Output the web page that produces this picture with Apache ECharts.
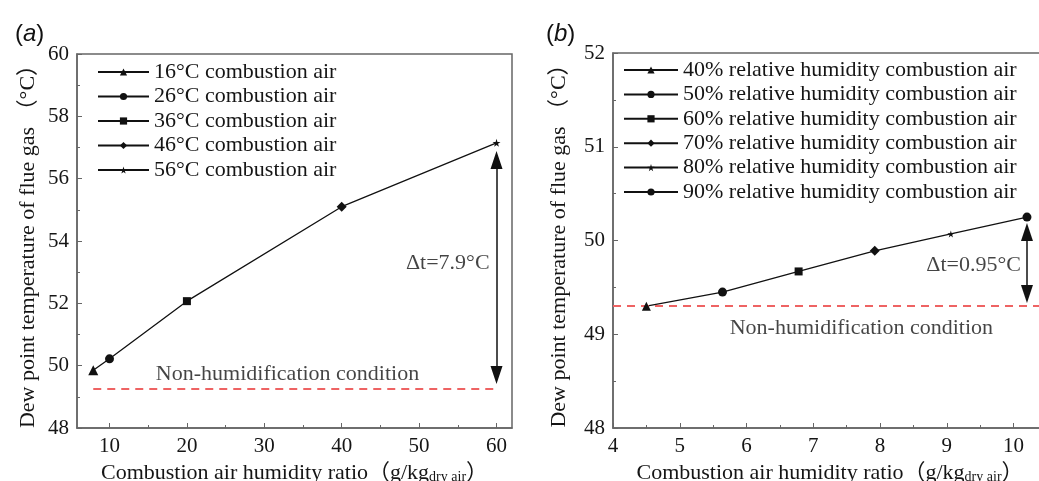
<!DOCTYPE html>
<html>
<head>
<meta charset="utf-8">
<script src="https://cdn.jsdelivr.net/npm/echarts@6/dist/echarts.min.js"></script>
<style>
  html, body { margin: 0; padding: 0; background: #fff; }
  #chart { width: 1039px; height: 481px; }
</style>
</head>
<body>
<div id="chart"></div>
<script>
// Panel (a): dew point vs humidity ratio for several combustion-air temperatures
const leftNames = ['16°C combustion air', '26°C combustion air', '36°C combustion air', '46°C combustion air', '56°C combustion air'];
const leftX = [7.9, 10, 20, 40, 60];
const leftY = [49.85, 50.22, 52.07, 55.1, 57.15];
const leftBaseline = 49.25;
const leftXTicks = [10, 20, 30, 40, 50, 60];
const leftXMinor = [15, 25, 35, 45, 55];

// Panel (b): dew point vs humidity ratio for several relative humidities
const rightNames = ['40% relative humidity combustion air', '50% relative humidity combustion air', '60% relative humidity combustion air', '70% relative humidity combustion air', '80% relative humidity combustion air', '90% relative humidity combustion air'];
const rightX = [4.5, 5.64, 6.78, 7.92, 9.06, 10.2];
const rightY = [49.3, 49.45, 49.67, 49.89, 50.07, 50.25];
const rightBaseline = 49.3;
const rightXTicks = [4, 5, 6, 7, 8, 9, 10];
const rightXMinor = [4.5, 5.5, 6.5, 7.5, 8.5, 9.5];

const STAR = 'path://M50,0 L61,35 L98,35 L68,57 L79,91 L50,70 L21,91 L32,57 L2,35 L39,35 Z';
const leftSymbols = [['triangle', 10], ['circle', 9], ['rect', 8], ['diamond', 10], [STAR, 8]];
const rightSymbols = [['triangle', 9], ['circle', 9], ['rect', 8], ['diamond', 10], [STAR, 7], ['circle', 9]];

const SERIF = '"Liberation Serif", "Times New Roman", "Noto Sans CJK SC", serif';
const SANS = '"Liberation Sans", Arial, sans-serif';
const INK = '#111';
const TEXT = '#151515';
const FRAME = '#666';
const RED = '#ee6363';

function xMain(grid, min, max, ticks) {
  return {
    type: 'value', gridIndex: grid, min: min, max: max,
    splitLine: { show: false },
    axisLine: { show: true, lineStyle: { color: FRAME, width: 1.5 } },
    axisTick: { show: true, inside: true, length: 5, customValues: ticks, lineStyle: { color: FRAME } },
    axisLabel: { customValues: ticks, margin: 8, color: TEXT, fontFamily: SERIF, fontSize: 21 },
    name: '{t|Combustion air humidity ratio（g/kg}{s|dry air}{t|）}',
    nameLocation: 'middle', nameGap: 30,
    nameTextStyle: {
      rich: {
        t: { fontFamily: SERIF, fontSize: 22, color: TEXT },
        s: { fontFamily: SERIF, fontSize: 14, color: TEXT, verticalAlign: 'bottom', padding: [9, 0, 0, 0] }
      }
    }
  };
}
function xMinor(grid, min, max, ticks) {
  return {
    type: 'value', gridIndex: grid, min: min, max: max, position: 'bottom',
    splitLine: { show: false }, axisLine: { show: false },
    axisLabel: { show: false },
    axisTick: { show: true, inside: true, length: 3, customValues: ticks, lineStyle: { color: FRAME } }
  };
}
function yAxis(grid, min, max, interval, gap) {
  return {
    type: 'value', gridIndex: grid, min: min, max: max, interval: interval,
    splitLine: { show: false },
    axisLine: { show: true, lineStyle: { color: FRAME, width: 1.5 } },
    axisTick: { show: true, inside: true, length: 5, lineStyle: { color: FRAME } },
    minorTick: { show: true, splitNumber: 2, length: 3, lineStyle: { color: FRAME } },
    axisLabel: { margin: 8, color: TEXT, fontFamily: SERIF, fontSize: 21 },
    name: 'Dew point temperature of flue gas （°C）',
    nameLocation: 'middle', nameRotate: 90, nameGap: gap,
    nameTextStyle: { fontFamily: SERIF, fontSize: 22, color: TEXT }
  };
}

function pointSeries(names, xs, ys, syms, xi, yi) {
  return names.map((n, i) => ({
    name: n, type: 'line', xAxisIndex: xi, yAxisIndex: yi,
    data: [[xs[i], ys[i]]],
    symbol: syms[i][0], symbolSize: syms[i][1],
    itemStyle: { color: INK }, lineStyle: { color: INK, width: 1 },
    z: 5, silent: true
  }));
}

function textSeries(xi, yi, items) {
  return {
    type: 'scatter', xAxisIndex: xi, yAxisIndex: yi, symbolSize: 0, silent: true,
    data: items.map(it => ({
      value: it.at,
      label: {
        show: true, position: it.pos, distance: 0, formatter: it.text,
        fontFamily: SERIF, fontSize: it.size, color: TEXT
      }
    })),
    z: 6
  };
}

function arrow(x, y0, y1) {
  return {
    silent: true, symbol: ['triangle', 'triangle'], symbolSize: [12, 18],
    lineStyle: { color: INK, width: 1.5, type: 'solid' }, label: { show: false },
    data: [[{ coord: [x, y0] }, { coord: [x, y1] }]]
  };
}

function panelTitle(letter, left) {
  return {
    text: '{p|(}{i|' + letter + '}{p|)}', left: left, top: 17,
    textStyle: {
      fontWeight: 'normal',
      rich: {
        p: { fontFamily: SANS, fontSize: 24, color: INK, fontWeight: 'normal' },
        i: { fontFamily: SANS, fontStyle: 'italic', fontSize: 24, color: INK, fontWeight: 'normal' }
      }
    }
  };
}

const legendText = { fontFamily: SERIF, fontSize: 22, lineHeight: 22, color: TEXT };

const option = {
  animation: false,
  backgroundColor: '#fff',
  title: [panelTitle('a', 10), panelTitle('b', 541)],
  grid: [
    { left: 77, top: 54, width: 435, height: 374, outerBoundsMode: 'none', containLabel: false,
      show: true, borderColor: FRAME, borderWidth: 1.5, backgroundColor: 'transparent' },
    { left: 613, top: 53, width: 434, height: 375, outerBoundsMode: 'none', containLabel: false,
      show: true, borderColor: FRAME, borderWidth: 1.5, backgroundColor: 'transparent' }
  ],
  legend: [
    { data: leftNames, orient: 'vertical', left: 97, top: 61, padding: 0, itemWidth: 51, itemHeight: 9, itemGap: 2.5,
      selectedMode: false, textStyle: legendText },
    { data: rightNames, orient: 'vertical', left: 623, top: 59, padding: 0, itemWidth: 54, itemHeight: 9, itemGap: 2.4,
      selectedMode: false, textStyle: legendText }
  ],
  xAxis: [
    xMain(0, 5.8, 62, leftXTicks),
    xMinor(0, 5.8, 62, leftXMinor),
    xMain(1, 4, 10.5, rightXTicks),
    xMinor(1, 4, 10.5, rightXMinor)
  ],
  yAxis: [
    yAxis(0, 48, 60, 2, 38),
    yAxis(1, 48, 52, 1, 43)
  ],
  series: [
    // connecting curve, panel (a)
    {
      type: 'line', xAxisIndex: 0, yAxisIndex: 0, symbol: 'none', silent: true,
      data: leftX.map((x, i) => [x, leftY[i]]),
      lineStyle: { color: INK, width: 1.3 },
      markLine: {
        silent: true, symbol: 'none', label: { show: false },
        lineStyle: { color: RED, width: 1.8, type: [8, 6] },
        data: [[{ coord: [leftX[0], leftBaseline] }, { coord: [leftX[leftX.length - 1], leftBaseline] }]]
      }
    },
    {
      type: 'line', xAxisIndex: 0, yAxisIndex: 0, symbol: 'none', silent: true, data: [],
      markLine: arrow(leftX[leftX.length - 1], 56.6, 49.7)
    },
    ...pointSeries(leftNames, leftX, leftY, leftSymbols, 0, 0),
    textSeries(0, 0, [
      { at: [59.1, 53.3], text: 'Δt=7.9°C', pos: 'left', size: 22 },
      { at: [33.0, 49.72], text: 'Non-humidification condition', pos: 'inside', size: 22 }
    ]),

    // connecting curve, panel (b)
    {
      type: 'line', xAxisIndex: 2, yAxisIndex: 1, symbol: 'none', silent: true,
      data: rightX.map((x, i) => [x, rightY[i]]),
      lineStyle: { color: INK, width: 1.3 },
      markLine: {
        silent: true, symbol: 'none', label: { show: false },
        lineStyle: { color: RED, width: 1.8, type: [8, 6] },
        data: [[{ coord: [4, rightBaseline] }, { coord: [10.5, rightBaseline] }]]
      }
    },
    {
      type: 'line', xAxisIndex: 2, yAxisIndex: 1, symbol: 'none', silent: true, data: [],
      markLine: arrow(rightX[rightX.length - 1], 50.09, 49.43)
    },
    ...pointSeries(rightNames, rightX, rightY, rightSymbols, 2, 1),
    textSeries(2, 1, [
      { at: [10.11, 49.74], text: 'Δt=0.95°C', pos: 'left', size: 22 },
      { at: [7.72, 49.06], text: 'Non-humidification condition', pos: 'inside', size: 22 }
    ])
  ]
};

const chart = echarts.init(document.getElementById('chart'), null, { renderer: 'canvas' });
chart.setOption(option);
</script>
</body>
</html>
